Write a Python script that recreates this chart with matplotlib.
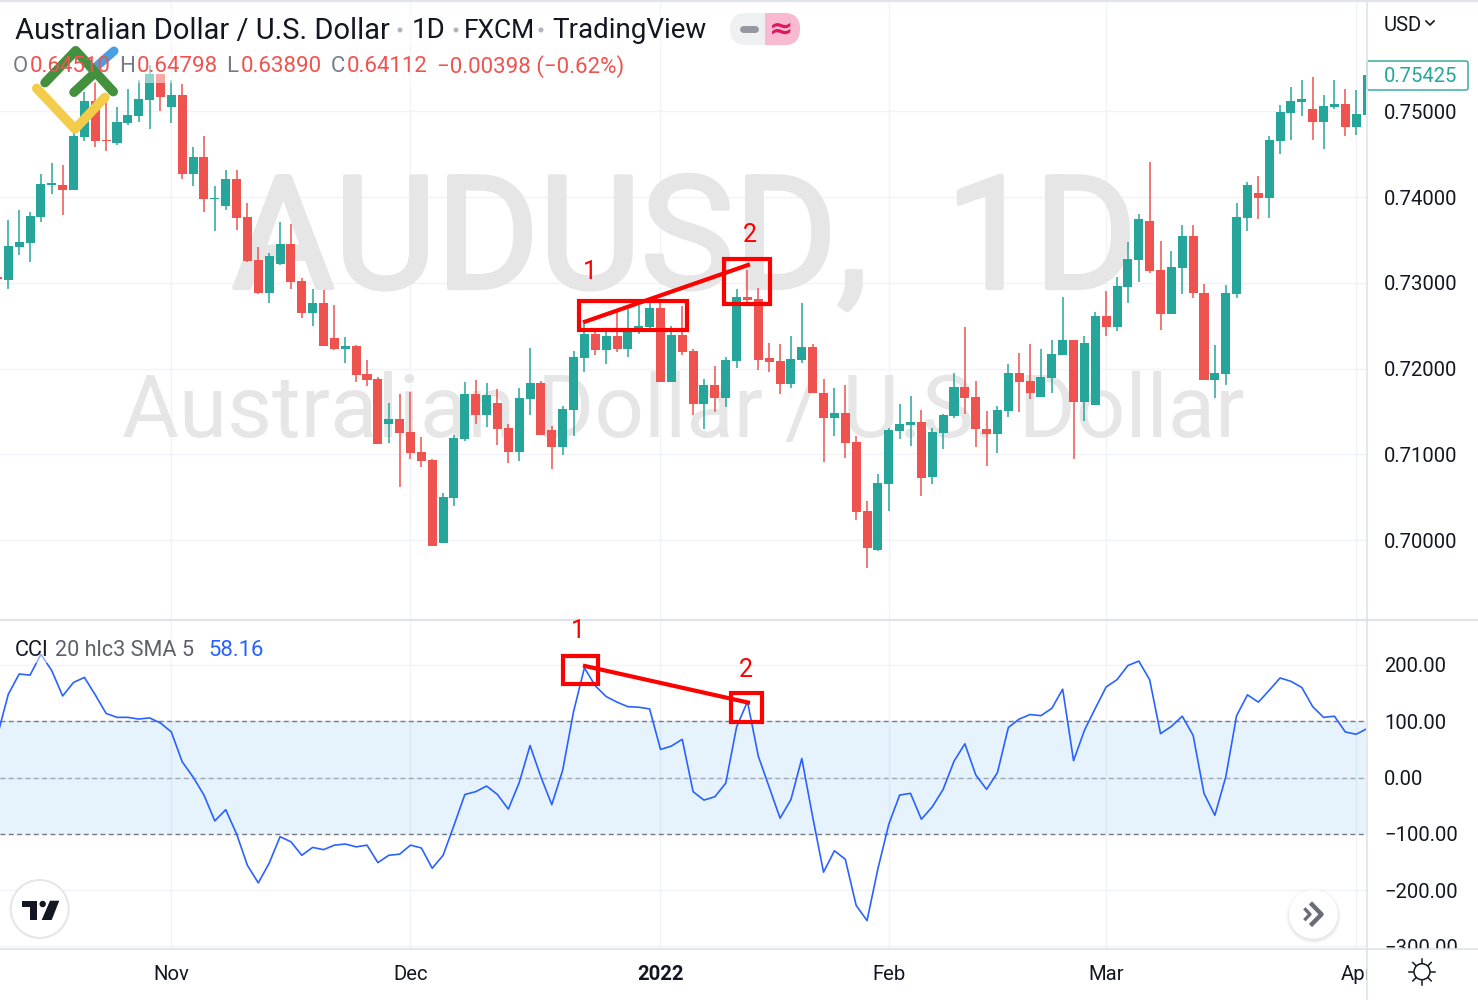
import matplotlib
matplotlib.use("Agg")
import matplotlib.pyplot as plt
import matplotlib.patheffects as pe
from matplotlib.patches import Rectangle, Circle, FancyBboxPatch, Polygon
import numpy as np

W, H = 1478, 1000
FONT = "Roboto"
plt.rcParams['font.family'] = [FONT, 'DejaVu Sans']

# ---- data (first candle is index -1) ----
opens = [0.73069,0.73034,0.73418,0.73465,0.73768,0.74141,0.74141,0.74083,0.74700,0.75120,0.74665,0.74630,0.74863,0.74945,0.75132,0.75435,0.75050,0.75190,0.74269,0.74467,0.73978,0.73896,0.74211,0.73768,0.73267,0.72882,0.73220,0.73453,0.73022,0.72649,0.72766,0.72358,0.72229,0.72264,0.71938,0.71880,0.71355,0.71414,0.71262,0.71029,0.70936,0.69968,0.70493,0.71181,0.71705,0.71460,0.71600,0.71309,0.71029,0.71647,0.71833,0.71285,0.71087,0.71519,0.72124,0.72404,0.72218,0.72381,0.72229,0.72463,0.72486,0.72707,0.71845,0.72393,0.72206,0.71588,0.71810,0.71658,0.72089,0.72835,0.72812,0.72124,0.72089,0.71821,0.72101,0.72253,0.71717,0.71425,0.71484,0.71146,0.70341,0.69887,0.70656,0.71274,0.71344,0.71379,0.70738,0.71250,0.71449,0.71786,0.71670,0.71297,0.71239,0.71507,0.71950,0.71856,0.71670,0.71891,0.72159,0.72334,0.71612,0.71577,0.72614,0.72486,0.72952,0.73267,0.73721,0.73150,0.72637,0.73173,0.73546,0.72882,0.71868,0.71938,0.72870,0.73756,0.74048,0.73989,0.74654,0.74980,0.75108,0.75027,0.74875,0.75050,0.75085,0.74817,0.74957]
highs = [0.73069,0.73733,0.73849,0.73826,0.74269,0.74397,0.74374,0.74782,0.75225,0.75341,0.75132,0.75050,0.75260,0.75365,0.75539,0.75435,0.75365,0.75318,0.74584,0.74712,0.74129,0.74316,0.74316,0.73931,0.73418,0.73348,0.73710,0.73686,0.73057,0.72929,0.72917,0.72742,0.72369,0.72276,0.72101,0.71903,0.71600,0.71705,0.71728,0.71204,0.70947,0.70551,0.71227,0.71845,0.71868,0.71833,0.71763,0.71355,0.71775,0.72241,0.71856,0.71332,0.71565,0.72206,0.72521,0.72451,0.72451,0.72661,0.72696,0.72742,0.72766,0.72766,0.72497,0.72731,0.72229,0.71880,0.72031,0.72136,0.72929,0.73150,0.72940,0.72299,0.72288,0.72381,0.72766,0.72288,0.71880,0.71775,0.71810,0.71215,0.70458,0.70773,0.71309,0.71588,0.71682,0.71519,0.71309,0.71472,0.71950,0.72486,0.71856,0.71507,0.71565,0.72054,0.72183,0.72288,0.72229,0.72334,0.72835,0.72334,0.72381,0.72661,0.72905,0.73069,0.73477,0.73803,0.74409,0.73488,0.73372,0.73675,0.73675,0.72987,0.72276,0.72975,0.73931,0.74176,0.74246,0.74712,0.75073,0.75283,0.75365,0.75400,0.75190,0.75365,0.75260,0.75248,0.75425]
lows = [0.73045,0.72929,0.73325,0.73243,0.73710,0.74036,0.73791,0.74083,0.74654,0.74584,0.74537,0.74607,0.74840,0.74875,0.74793,0.75003,0.74863,0.74211,0.74129,0.73826,0.73605,0.73849,0.73616,0.73243,0.72870,0.72766,0.73208,0.72929,0.72591,0.72497,0.72264,0.72218,0.72066,0.71845,0.71798,0.71122,0.71134,0.70621,0.70947,0.70854,0.69933,0.69968,0.70400,0.71157,0.71355,0.71320,0.71111,0.70901,0.70924,0.71460,0.71227,0.70831,0.70994,0.71215,0.71961,0.72159,0.72054,0.72194,0.72136,0.72404,0.72463,0.71845,0.71845,0.72159,0.71460,0.71297,0.71495,0.71553,0.72008,0.72777,0.71985,0.71961,0.71705,0.71775,0.72066,0.71717,0.70912,0.71215,0.70959,0.70236,0.69677,0.69875,0.70341,0.71181,0.71099,0.70516,0.70656,0.71064,0.71425,0.71472,0.71087,0.70866,0.71017,0.71437,0.71495,0.71647,0.71670,0.71717,0.72159,0.70947,0.71390,0.71577,0.72381,0.72439,0.72766,0.73010,0.73115,0.72451,0.72637,0.72870,0.72824,0.71868,0.71658,0.71810,0.72824,0.73605,0.73745,0.73756,0.74502,0.74665,0.74945,0.74665,0.74560,0.75027,0.74712,0.74724,0.74957]
closes = [0.73045,0.73430,0.73477,0.73780,0.74152,0.74164,0.74083,0.74712,0.75120,0.74654,0.74654,0.74875,0.74957,0.75143,0.75435,0.75167,0.75190,0.74269,0.74467,0.73978,0.73989,0.74211,0.73756,0.73255,0.72882,0.73313,0.73453,0.73010,0.72649,0.72766,0.72264,0.72229,0.72264,0.71926,0.71868,0.71122,0.71414,0.71250,0.71017,0.70924,0.69933,0.70504,0.71192,0.71705,0.71460,0.71693,0.71297,0.71029,0.71658,0.71833,0.71227,0.71087,0.71530,0.72136,0.72404,0.72218,0.72381,0.72229,0.72428,0.72497,0.72707,0.71845,0.72393,0.72194,0.71588,0.71810,0.71658,0.72101,0.72835,0.72800,0.72101,0.72078,0.71821,0.72113,0.72253,0.71717,0.71425,0.71484,0.71134,0.70329,0.69910,0.70668,0.71285,0.71355,0.71379,0.70726,0.71262,0.71460,0.71786,0.71658,0.71297,0.71239,0.71519,0.71950,0.71845,0.71717,0.71903,0.72171,0.72334,0.71612,0.72299,0.72614,0.72486,0.72964,0.73278,0.73745,0.73138,0.72637,0.73185,0.73546,0.72882,0.71868,0.71950,0.72882,0.73768,0.74141,0.73989,0.74665,0.74992,0.75120,0.75143,0.74875,0.75062,0.75085,0.74817,0.74968,0.75425]
cci = [75,148,184,182,219,190,145,169,178,147,114,107,107,104,106,97,81,28,1,-31,-77,-57,-100,-156,-187,-152,-105,-114,-138,-124,-128,-120,-118,-123,-120,-151,-138,-136,-120,-125,-161,-138,-85,-30,-25,-15,-30,-56,-9,57,1,-48,13,117,195,163,144,134,126,125,122,50,56,68,-25,-40,-34,-10,90,135,38,-17,-72,-39,34,-70,-168,-130,-145,-227,-254,-162,-83,-31,-28,-74,-52,-21,29,60,5,-21,9,89,104,112,110,123,157,30,84,123,161,174,199,207,174,78,91,109,75,-28,-67,1,110,147,134,155,177,171,160,126,107,109,81,77,87]

price_ticks = [0.70, 0.71, 0.72, 0.73, 0.74, 0.75]
cci_ticks = [200, 100, 0, -100, -200, -300]
month_idx = [15, 37, 60, 81, 101, 124]
month_labels = ["Nov", "Dec", "2022", "Feb", "Mar", "Apr"]

UP, DOWN = "#26a69a", "#ef5350"
GRID, BORDER, TEXT = "#f0f3fa", "#e0e3eb", "#131722"

fig = plt.figure(figsize=(W / 100, H / 100), dpi=100, facecolor="white")

def axes_px(x0, y0, x1, y1, **kw):
    return fig.add_axes([x0 / W, 1 - y1 / H, (x1 - x0) / W, (y1 - y0) / H], **kw)

X_PER = 10.87
X0 = 8.3
xlim = (-X0 / X_PER, (1366 - X0) / X_PER)

# overlay in pixel coordinates for decorations
ov = axes_px(0, 0, W, H, zorder=20)
ov.set_xlim(0, W); ov.set_ylim(H, 0); ov.axis("off"); ov.patch.set_alpha(0)

# ---- price pane ----
ax1 = axes_px(0, 0, 1366, 620, zorder=2)
ax1.set_xlim(*xlim)
ax1.set_ylim(0.76297 - 620 * 0.00011655, 0.76297)
xs = np.arange(-1, 126)
o, h, l, c = map(np.array, (opens, highs, lows, closes))
cols = [UP if b >= a else DOWN for a, b in zip(o, c)]
ax1.vlines(xs, l, h, colors=cols, linewidth=1.1, zorder=3)
ax1.bar(xs, np.maximum(np.abs(c - o), 0.00004), bottom=np.minimum(o, c), width=0.83, color=cols, zorder=4, linewidth=0)
ax1.set_yticks(price_ticks, [f"{v:.5f}" for v in price_ticks])
ax1.set_xticks(month_idx, [])
ax1.yaxis.tick_right()
ax1.tick_params(axis="both", length=0, labelsize=14.6, labelcolor=TEXT, pad=13)
ax1.grid(True, color=GRID, linewidth=1, zorder=0)
ax1.set_axisbelow(True)
for s in ax1.spines.values():
    s.set_visible(False)

# watermark
wm = ax1.text(232, 288, "AUDUSD,  1D", transform=ov.transData, fontsize=113, color="#e6e6e6", ha="left", va="baseline", zorder=1, fontfamily="Roboto")
wm.set_path_effects([pe.withStroke(linewidth=3, foreground="#e6e6e6")])
ax1.text(122, 437, "Australian Dollar / U.S. Dollar", transform=ov.transData, fontsize=62.8, color="#e6e6e6", ha="left", va="baseline", zorder=1, fontfamily="Roboto")

ax1.add_patch(Rectangle((0, 8), 710, 38, transform=ov.transData, fc="white", alpha=0.5, ec="none", zorder=6))
ax1.add_patch(Rectangle((0, 54), 628, 29, transform=ov.transData, fc="white", alpha=0.5, ec="none", zorder=6))

# ---- CCI pane ----
ax2 = axes_px(0, 621, 1366, 948, zorder=2)
ax2.set_xlim(*xlim)
ax2.set_ylim((777.6 - 948) / 0.563, (777.6 - 621) / 0.563)
ax2.axhspan(-100, 100, color="#2196f3", alpha=0.11, lw=0, zorder=1)
for lev, al in ((100, 1), (0, .6), (-100, 1)):
    ax2.axhline(lev, color="#787b86", lw=1, ls=(0, (3.5, 2.5)), alpha=al, zorder=2)
ax2.plot(xs, cci, color="#2962ff", lw=1.2, zorder=3)
ax2.set_yticks(cci_ticks, [f"{v:.2f}".replace("-", "\u2212") for v in cci_ticks])
ax2.set_xticks(month_idx, [])
ax2.yaxis.tick_right()
ax2.tick_params(axis="both", length=0, labelsize=14.6, labelcolor=TEXT, pad=13)
ax2.grid(True, color=GRID, linewidth=1, zorder=0)
ax2.set_axisbelow(True)
for s in ax2.spines.values():
    s.set_visible(False)
ax2.add_patch(Rectangle((0, 637), 270, 26, transform=ov.transData, fc="white", alpha=0.5, ec="none", zorder=6))

# ---- time axis: a thin strip that also hides the bottom of the last CCI label ----
ax3 = axes_px(0, 949, 1366, 958, zorder=5)
ax3.set_xlim(*xlim); ax3.set_ylim(0, 1); ax3.set_yticks([])
ax3.set_xticks(month_idx, month_labels)
ax3.tick_params(axis="x", length=0, labelsize=14.6, labelcolor=TEXT, pad=5)
for lab in ax3.get_xticklabels():
    if lab.get_text() == "2022":
        lab.set_fontweight("bold")
for s in ax3.spines.values():
    s.set_visible(False)
ax4 = axes_px(1367, 949, W, 1000, zorder=6)
ax4.set_xticks([]); ax4.set_yticks([])
for s in ax4.spines.values():
    s.set_visible(False)

# ---- borders ----
ov.plot([1366.5, 1366.5], [0, H], color=BORDER, lw=1.2)
ov.plot([0, W], [620, 620], color=BORDER, lw=1.6)
ov.plot([0, W], [948.5, 948.5], color=BORDER, lw=1.2)
ov.plot([0, W], [0.5, 0.5], color=BORDER, lw=1.6)

# ---- header legends ----
ts = dict(va="center", ha="left")
ov.text(15, 31, "Australian Dollar / U.S. Dollar", fontsize=21, color=TEXT, **ts)
for x, t, fs in ((412, "1D", 20), (464, "FXCM", 19), (552, "TradingView", 20)):
    ov.text(x, 31, t, fontsize=fs, color=TEXT, **ts)
for x in (400, 456, 541):
    ov.add_patch(Circle((x, 30), 1.8, color="#b2b5be"))
for x, t, col in ((13, "O", "#787b86"), (30, "0.64510", DOWN), (119.5, "H", "#787b86"), (137, "0.64798", DOWN),
                  (226.5, "L", "#787b86"), (241, "0.63890", DOWN), (331, "C", "#787b86"), (347, "0.64112", DOWN),
                  (437, "\u22120.00398 (\u22120.62%)", DOWN)):
    ov.text(x, 67, t, fontsize=16, color=col, **ts)
ov.text(15, 651, "CCI", fontsize=15.6, color=TEXT, **ts)
ov.text(55, 651, "20 hlc3 SMA 5", fontsize=15.6, color="#5d606b", **ts)
ov.text(208, 651, "58.16", fontsize=15.9, color="#2962ff", **ts)

# pills
ov.add_patch(FancyBboxPatch((746, 29), 38, 0.1, boxstyle="round,pad=16", fc="#eff0f2", ec="none"))
pink = FancyBboxPatch((746, 29), 38, 0.1, boxstyle="round,pad=16", fc="#f9b9d0", ec="none")
ov.add_patch(pink)
pink.set_clip_path(Rectangle((765, 0), 60, 60, transform=ov.transData))
ov.plot([743, 755], [29, 29], color="#9598a1", lw=5, solid_capstyle="round")
ov.text(781, 29, "\u2248", fontsize=21, color="#d81b60", ha="center", va="center", fontweight="bold", fontfamily="DejaVu Sans")

# price tag and currency
ov.add_patch(FancyBboxPatch((1367, 61), 101, 29, boxstyle="round,pad=0,rounding_size=2", fc="white", ec=UP, lw=1))
ov.text(1384, 76.5, "0.75425", fontsize=14.6, color=UP, **ts)
ov.text(1384, 25.5, "USD", fontsize=14.6, color=TEXT, **ts)
ov.plot([1426, 1430, 1434], [21, 25, 21], color=TEXT, lw=1.2)

# ---- LiteFinance mark ----
ov.plot([98, 114], [65, 51], color="#4a9fe0", lw=6.5, solid_capstyle="round")
ov.plot([36.7, 75, 105], [88.3, 129, 97.3], color="#f2cc4a", lw=6.8, solid_capstyle="round", solid_joinstyle="round")
ov.plot([45, 75.7, 113.3], [82.7, 50.7, 91.7], color="#43903f", lw=6.8, solid_capstyle="round", solid_joinstyle="round")
ov.plot([74, 95], [92.3, 72.7], color="#43903f", lw=6.8, solid_capstyle="round")

# ---- TradingView mark ----
ov.add_patch(Circle((39.7, 909), 29, fc="white", ec="#e6e6e6", lw=1.5))
ov.add_patch(Polygon([(21.7, 900.7), (36.7, 900.7), (36.7, 920), (30, 920), (30, 907.3), (21.7, 907.3)], fc=TEXT, ec="none"))
ov.add_patch(Circle((42.7, 904), 3.2, fc=TEXT, ec="none"))
ov.add_patch(Polygon([(50, 900.7), (59.3, 900.7), (51.7, 920), (41.7, 920)], fc=TEXT, ec="none"))

# ---- scroll button ----
for r, a in ((28, .012), (27, .018), (26, .025), (25.2, .035)):
    ov.add_patch(Circle((1313.5, 916), r, fc="black", alpha=a, ec="none"))
ov.add_patch(Circle((1313.3, 914.3), 24.5, fc="white", ec="none"))
ov.plot([1305.5, 1310, 1305.5], [909.5, 914.3, 919], color="#6a6d78", lw=2.4)
ov.plot([1312, 1321.5, 1312], [904.5, 914.3, 924], color="#6a6d78", lw=3.2)

# ---- settings gear ----
ov.add_patch(Circle((1422, 971.7), 8, fc="white", ec=TEXT, lw=1.1))
for a in np.arange(8) * np.pi / 4:
    ov.plot([1422 + 9 * np.cos(a), 1422 + 13 * np.cos(a)], [971.7 + 9 * np.sin(a), 971.7 + 13 * np.sin(a)], color=TEXT, lw=1.1)

# ---- red annotations ----
RED = "#ff0000"
for x0, y0, x1, y1 in ((579, 301, 687, 330), (724, 259, 770, 304), (563, 655.5, 598, 684), (731, 693, 762, 722)):
    ov.add_patch(Rectangle((x0, y0), x1 - x0, y1 - y0, fc="none", ec=RED, lw=3, joinstyle="miter"))
ov.plot([585, 748], [321.7, 265], color=RED, lw=3)
ov.plot([585, 748], [666, 702.5], color=RED, lw=3)
for x, y, t in ((590, 272, "1"), (750, 235, "2"), (578, 631, "1"), (746, 670, "2")):
    ov.text(x, y, t, fontsize=18, color=RED, ha="center", va="center")

fig.savefig("out.png", dpi=100, facecolor="white")
